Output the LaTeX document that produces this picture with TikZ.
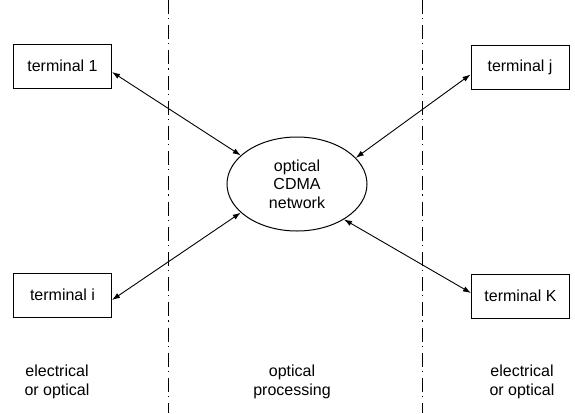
\documentclass[tikz,border=0pt]{standalone}
\usepackage{fontspec}
\setmainfont{Liberation Sans}
\usetikzlibrary{shapes.geometric,arrows.meta}
\begin{document}
\begin{tikzpicture}[x=1pt,y=-1pt,
  every node/.style={font=\fontsize{16}{18.5}\selectfont},
  termbox/.style={draw,line width=1pt,minimum width=98pt,minimum height=44pt,inner sep=0pt},
  netell/.style={draw,ellipse,line width=1pt,minimum width=140pt,minimum height=94pt,inner sep=0pt,align=center},
  zonelabel/.style={align=center,inner sep=0pt},
  divider/.style={line width=1pt,dash pattern=on 14pt off 4pt on 1.2pt off 6pt},
  link/.style={line width=0.9pt,{Latex[length=8pt,width=5.5pt]}-{Latex[length=8pt,width=5.5pt]}}
]
\useasboundingbox (0,0) rectangle (575,413);
\draw[divider] (168,0) -- (168,413);
\draw[divider] (422,0) -- (422,413);

\node[termbox] (t1) at (62.5,66) {terminal 1};
\node[termbox] (ti) at (62.5,295) {terminal i};
\node[termbox] (tj) at (520,67.5) {terminal j};
\node[termbox] (tK) at (520.5,296) {terminal K};
\node[netell] (net) at (297,184) {optical\\CDMA\\network};

\node[zonelabel] (l1) at (57,382) {electrical\\or optical};
\node[zonelabel] (l2) at (292,382) {optical\\processing};
\node[zonelabel] (l3) at (522,382) {electrical\\or optical};

\draw[link] ([yshift=-6pt]t1.east) -- (net.153);
\draw[link] ([yshift=-7pt]tj.west) -- (net.24);
\draw[link] ([yshift=-5pt]ti.east) -- (net.207);
\draw[link] ([yshift=3pt]tK.west) -- (net.323);
\end{tikzpicture}
\end{document}
